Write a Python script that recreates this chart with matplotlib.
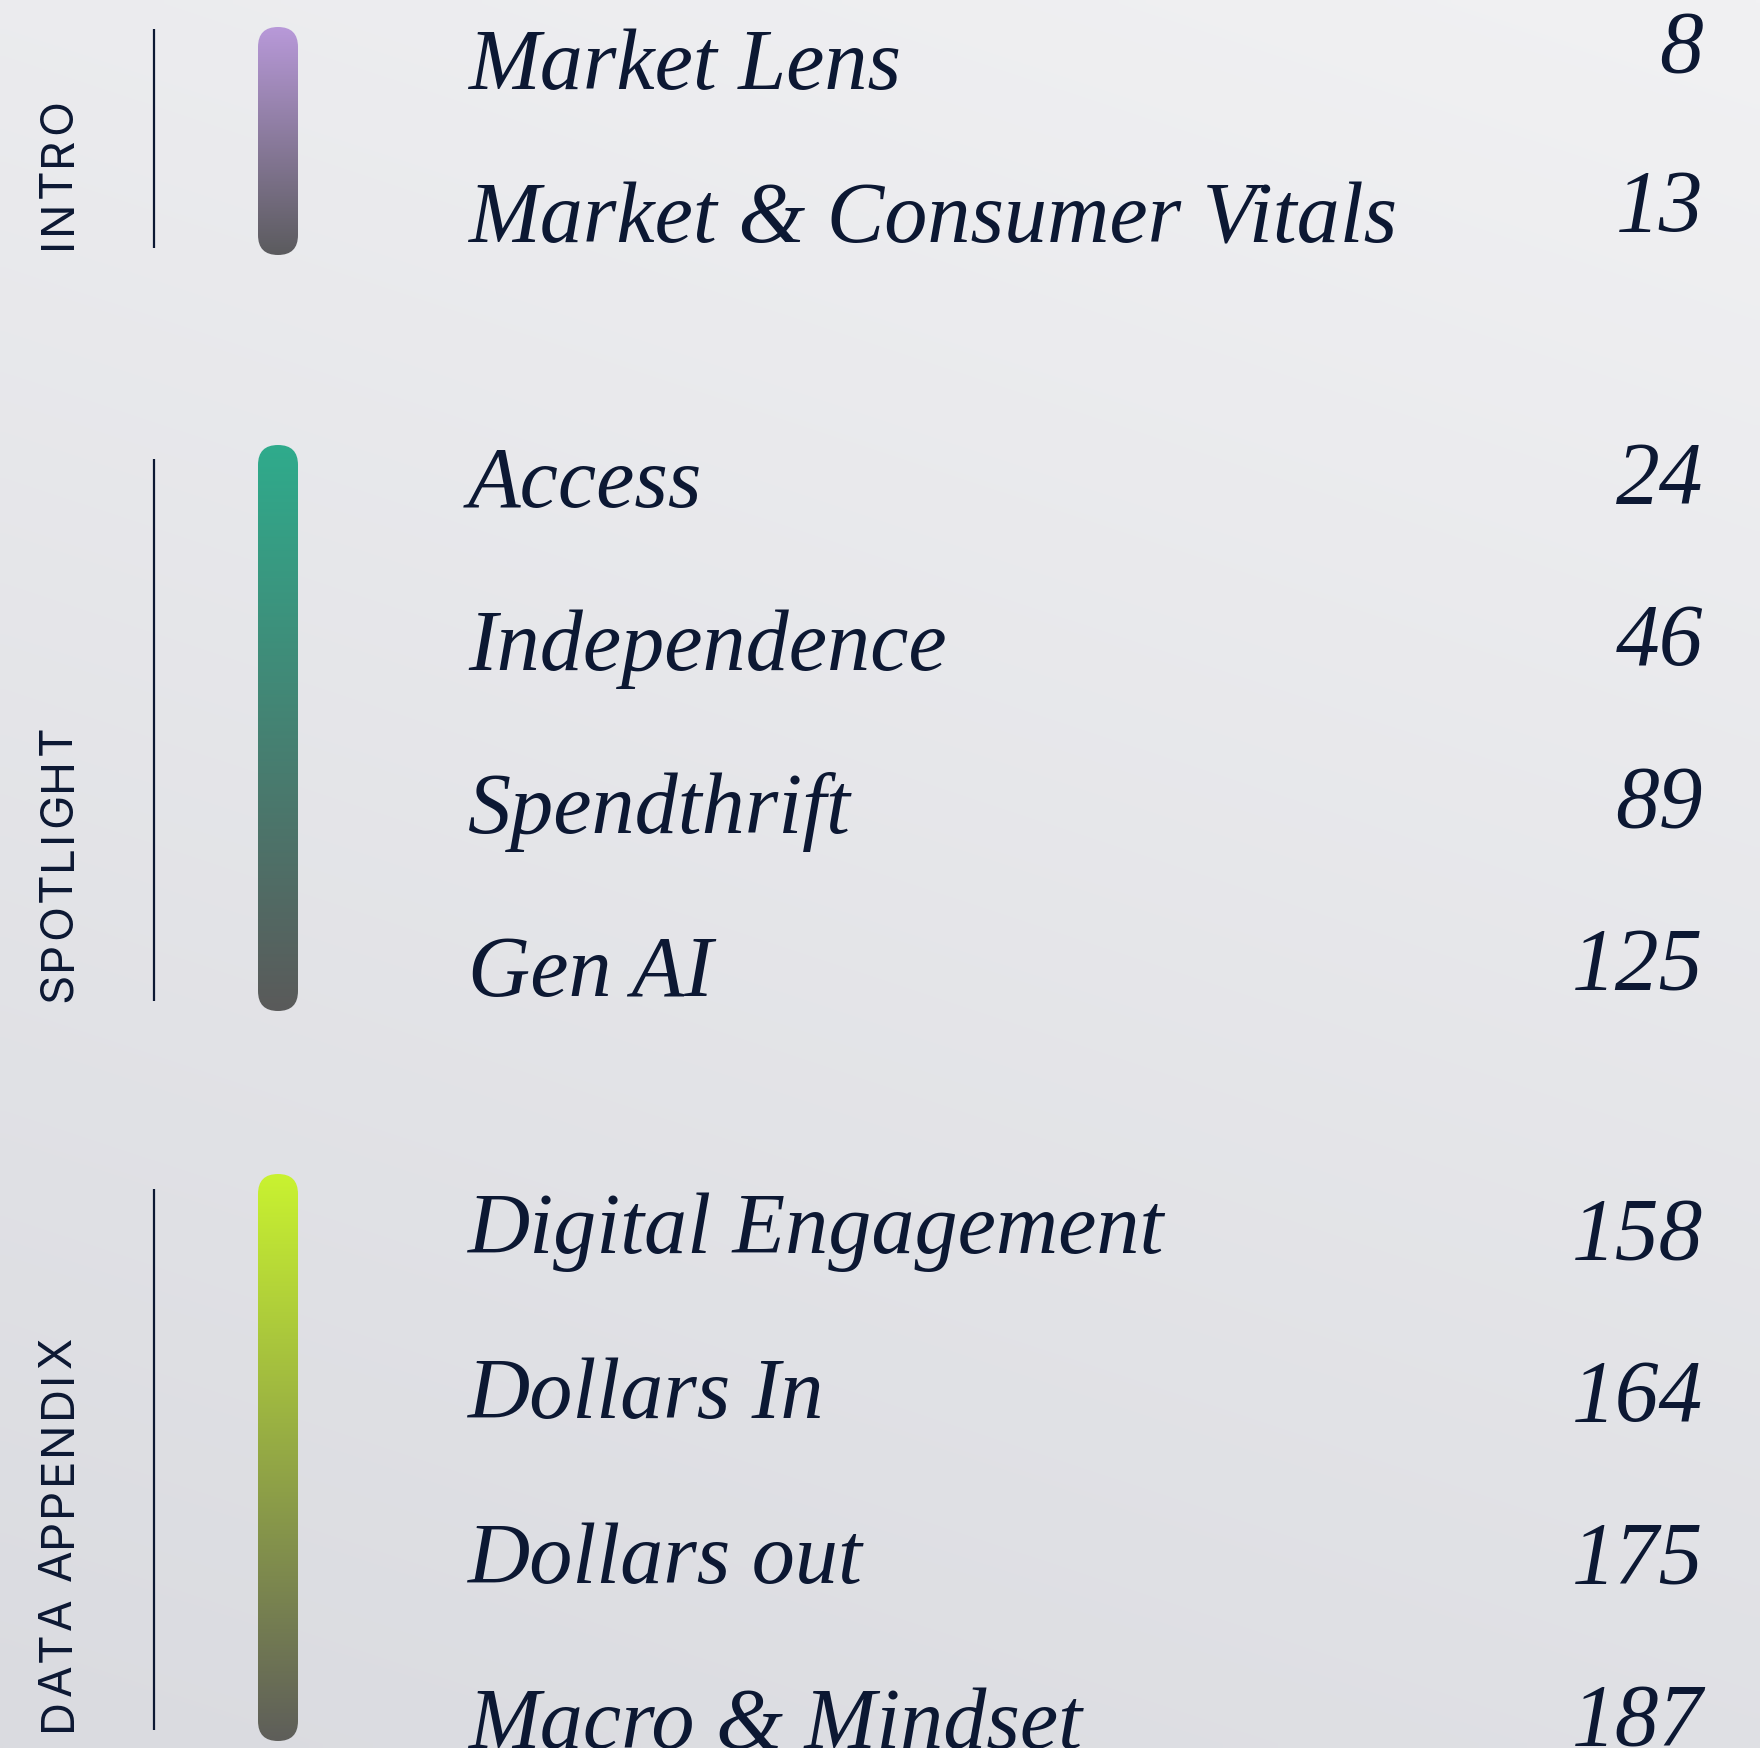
import numpy as np
import matplotlib
matplotlib.use("Agg")
import matplotlib.pyplot as plt
from matplotlib.patches import FancyBboxPatch
from matplotlib.colors import to_rgb
from matplotlib.font_manager import FontProperties, findfont
from matplotlib.ft2font import FT2Font

# Table of contents data
sections = ["INTRO", "SPOTLIGHT", "DATA APPENDIX"]
titles = [
    ["Market Lens", "Market & Consumer Vitals"],
    ["Access", "Independence", "Spendthrift", "Gen AI"],
    ["Digital Engagement", "Dollars In", "Dollars out", "Macro & Mindset"],
]
pages = [
    [8, 13],
    [24, 46, 89, 125],
    [158, 164, 175, 187],
]
bar_top_colors = ["#b899d9", "#2fab8c", "#c9f230"]
bar_bottom_colors = ["#5b5b5e", "#5a5a5a", "#5e5e5a"]

# Layout (pixels)
W, H = 1760, 1749
title_first = [89, 507, 1253]
title_step = [153, 163, 165]
num_first = [72, 503, 1259]
num_step = [159, 162, 162]
bar_span = [(28, 256), (446, 1012), (1175, 1742)]
line_span = [(30, 249), (460, 1002), (1190, 1731)]
ink = "#0c1833"

fig = plt.figure(figsize=(W / 100, H / 100), dpi=100)
ax = fig.add_axes([0, 0, 1, 1])
ax.set_xlim(0, W)
ax.set_ylim(H, 0)
ax.axis("off")

# background: soft diagonal grey gradient
gx, gy = np.meshgrid(np.linspace(0, 1, 200), np.linspace(0, 1, 200))
t = 0.75 * gy + 0.25 * (1 - gx)
c0 = np.array(to_rgb("#f1f1f3"))
c1 = np.array(to_rgb("#dadbe0"))
bg = c0[None, None, :] * (1 - t[..., None]) + c1[None, None, :] * t[..., None]
ax.imshow(bg, extent=(0, W, H, 0), origin="upper", aspect="auto", zorder=0,
          interpolation="bilinear")

# letter-spaced vertical labels, drawn one glyph at a time
label_size = 33
label_prop = FontProperties(family="Inter", size=label_size)
ft = FT2Font(findfont(label_prop))
ft.set_size(label_size, 100)
tracking = 2.2


def glyph_adv(ch):
    g = ft.load_char(ord(ch))
    return g.linearHoriAdvance / 65536


def spaced_label(x_base, y_bottom, text):
    y = y_bottom
    for ch in text:
        if ch != " ":
            ax.text(x_base, y, ch, rotation=90, rotation_mode="anchor",
                    ha="left", va="baseline", fontproperties=label_prop,
                    color=ink, zorder=3)
        y -= glyph_adv(ch) + tracking


bar_x, bar_w = 258, 40
for s, name in enumerate(sections):
    top, bottom = bar_span[s]

    # gradient pill
    ct = np.array(to_rgb(bar_top_colors[s]))
    cb = np.array(to_rgb(bar_bottom_colors[s]))
    k = np.linspace(0, 1, 256)[:, None]
    grad = (ct * (1 - k) + cb * k)[:, None, :]
    pill = FancyBboxPatch((bar_x, top), bar_w, bottom - top,
                          boxstyle="round,pad=0,rounding_size=20",
                          linewidth=0, facecolor="none", transform=ax.transData)
    ax.add_patch(pill)
    im = ax.imshow(grad, extent=(bar_x, bar_x + bar_w, bottom, top), origin="upper",
                   aspect="auto", zorder=2, interpolation="bilinear")
    im.set_clip_path(pill)

    # thin divider line
    l0, l1 = line_span[s]
    ax.plot([154, 154], [l0, l1], color=ink, lw=1.6, solid_capstyle="butt", zorder=2)

    # vertical section label
    spaced_label(71, l1, name)

    for i, (title, page) in enumerate(zip(titles[s], pages[s])):
        ax.text(468, title_first[s] + i * title_step[s], title, ha="left",
                va="baseline", fontsize=62, family="Liberation Serif",
                style="italic", color=ink, zorder=3)
        ax.text(1703, num_first[s] + i * num_step[s], str(page), ha="right",
                va="baseline", fontsize=63, family="Liberation Serif",
                style="italic", color=ink, zorder=3)

ax.set_xlim(0, W)
ax.set_ylim(H, 0)
fig.savefig("out.png", dpi=100)
